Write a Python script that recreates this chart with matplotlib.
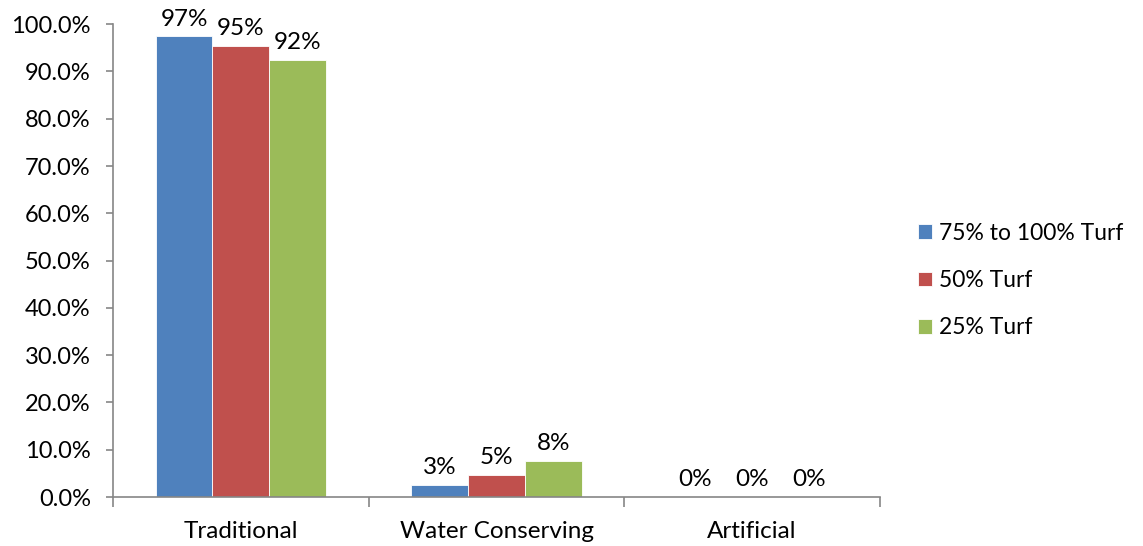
import matplotlib
matplotlib.use('Agg')
import matplotlib.pyplot as plt
import numpy as np

plt.rcParams['font.family'] = ['Lato', 'DejaVu Sans']

categories = ['Traditional', 'Water Conserving', 'Artificial']
series_names = ['75% to 100% Turf', '50% Turf', '25% Turf']
turf_75_100 = [97.4, 2.6, 0.0]
turf_50 = [95.3, 4.7, 0.0]
turf_25 = [92.4, 7.6, 0.0]
colors = ['#4f81bd', '#c0504d', '#9bbb59']

series = [turf_75_100, turf_50, turf_25]

fig = plt.figure(figsize=(11.43, 5.46), dpi=100)
ax = fig.add_axes([0.0989, 0.0897, 0.671, 0.866])

x = np.arange(len(categories))
width = 1 / 4.5
for i, (vals, name, c) in enumerate(zip(series, series_names, colors)):
    pos = x + (i - 1) * width
    ax.bar(pos, vals, width, color=c, edgecolor='white', linewidth=0.6, label=name)
    for p, v in zip(pos, vals):
        ax.annotate('{:.0f}%'.format(v), xy=(p, v), xytext=(0, 5),
                    textcoords='offset points', ha='center', va='bottom', fontsize=17.5)

ax.set_xlim(-0.5, len(categories) - 0.5)
ax.set_ylim(0, 100)
ax.set_yticks(np.arange(0, 101, 10))
ax.set_yticklabels(['%.1f%%' % v for v in np.arange(0, 101, 10)], fontsize=17)

ax.set_xticks(x)
ax.set_xticklabels(categories, fontsize=17.5)
ax.tick_params(axis='x', length=0, pad=17)
ax.set_xticks(np.arange(-0.5, len(categories)), minor=True)
ax.tick_params(axis='x', which='minor', length=7, color='#868686', width=1.2)
ax.tick_params(axis='y', length=5, color='#868686', width=1.2, pad=11)

for side in ['top', 'right']:
    ax.spines[side].set_visible(False)
for side in ['left', 'bottom']:
    ax.spines[side].set_color('#868686')
    ax.spines[side].set_linewidth(1.2)

ax.legend(loc='center left', bbox_to_anchor=(1.023, 0.458), frameon=False, fontsize=16.5,
          handlelength=0.6, handleheight=0.6, handletextpad=0.3, labelspacing=1.15)

plt.savefig('out.png', dpi=100)
